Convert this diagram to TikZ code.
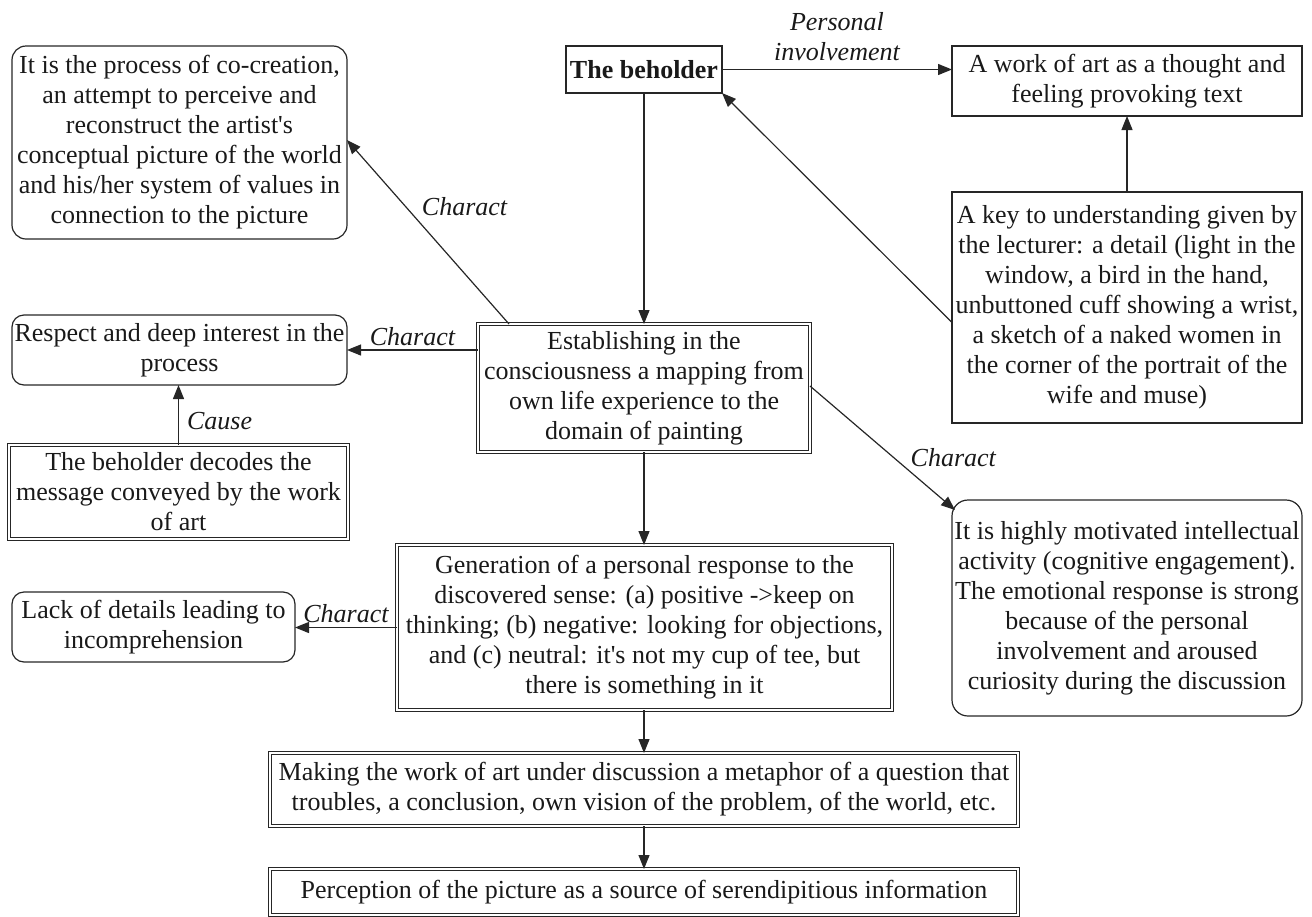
\documentclass[tikz,border=0pt]{standalone}
\usepackage{fontspec}
\setmainfont{Liberation Serif}
\usetikzlibrary{arrows.meta}
\begin{document}
\begin{tikzpicture}[x=1pt,y=-1pt,
  base/.style={draw=black!85, line width=1.2pt, align=center, inner sep=0pt, outer sep=0pt,
    font=\fontsize{26}{30}\selectfont, text=black!90},
  plainbox/.style={base},
  roundbox/.style={base, rounded corners=14pt},
  dblbox/.style={base, double, double distance=2.4pt, line width=0.9pt},
  conn/.style={draw=black!85, line width=1.2pt, -{Triangle[length=14pt,width=11pt]}},
  lbl/.style={font=\fontsize{26}{30}\selectfont\itshape, text=black!90, inner sep=2pt}
]
\useasboundingbox (0,0) rectangle (1312,916);

\node[roundbox, minimum width=335pt, minimum height=193pt] (cocreate) at (179.5,142.5)
  {It is the process of co-creation,\\ an attempt to perceive and\\ reconstruct the artist\textquotesingle s\\ conceptual picture of the world\\ and his/her system of values in\\ connection to the picture};

\node[plainbox, minimum width=156pt, minimum height=47pt, font=\fontsize{26}{30}\selectfont\bfseries] (beholder) at (644,69.5) {The beholder};

\node[plainbox, minimum width=350pt, minimum height=70pt] (work) at (1127,81)
  {A work of art as a thought and\\ feeling provoking text};

\node[plainbox, minimum width=350pt, minimum height=231pt] (key) at (1127,307.5)
  {A key to understanding given by\\ the lecturer: a detail (light in the\\ window, a bird in the hand,\\ unbuttoned cuff showing a wrist,\\ a sketch of a naked women in\\ the corner of the portrait of the\\ wife and muse)};

\node[roundbox, rounded corners=12pt, minimum width=335pt, minimum height=70pt] (respect) at (179.5,350)
  {Respect and deep interest in the\\ process};

\node[dblbox, minimum width=332pt, minimum height=128pt] (establish) at (644,388)
  {Establishing in the\\ consciousness a mapping from\\ own life experience to the\\ domain of painting};

\node[dblbox, minimum width=339pt, minimum height=94pt] (decodes) at (178.5,492)
  {The beholder decodes the\\ message conveyed by the work\\ of art};

\node[roundbox, rounded corners=16pt, minimum width=350pt, minimum height=216pt] (motivated) at (1127,608)
  {It is highly motivated intellectual\\ activity (cognitive engagement).\\ The emotional response is strong\\ because of the personal\\ involvement and aroused\\ curiosity during the discussion};

\node[dblbox, minimum width=495pt, minimum height=165pt] (generation) at (644.5,627.5)
  {Generation of a personal response to the\\ discovered sense: (a) positive ->keep on\\ thinking; (b) negative: looking for objections,\\ and (c) neutral: it\textquotesingle s not my cup of tee, but\\ there is something in it};

\node[roundbox, rounded corners=12pt, minimum width=283pt, minimum height=70pt] (lack) at (153.5,627)
  {Lack of details leading to\\ incomprehension};

\node[dblbox, minimum width=748pt, minimum height=73pt] (making) at (644,789.5)
  {Making the work of art under discussion a metaphor of a question that\\ troubles, a conclusion, own vision of the problem, of the world, etc.};

\node[dblbox, minimum width=748pt, minimum height=46pt] (perception) at (644,892)
  {Perception of the picture as a source of serendipitious information};

% connectors
\draw[conn] (beholder.east) -- (beholder.east -| work.west)
  node[lbl, midway, above, align=center, yshift=6pt] {Personal\\ involvement};
\draw[conn] (beholder.south) -- (establish.north);
\draw[conn] (key.north) -- (work.south);
\draw[conn] ([yshift=-15pt]key.west) -- (beholder.south east);
\draw[conn] ([xshift=-135pt]establish.north) -- ([yshift=2.5pt]cocreate.east)
  node[lbl, pos=0.64, anchor=west, xshift=14pt] {Charact};
\draw[conn] (establish.west |- respect.east) -- (respect.east)
  node[lbl, midway, above, yshift=2pt] {Charact};
\draw[conn] (decodes.north) -- (decodes.north |- respect.south)
  node[lbl, midway, right, xshift=6pt, yshift=-6pt] {Cause};
\draw[conn] ([yshift=2pt]establish.east) -- ([xshift=3pt,yshift=-10pt]motivated.north west)
  node[lbl, pos=0.58, anchor=west, xshift=14pt] {Charact};
\draw[conn] (generation.west) -- (generation.west -| lack.east)
  node[lbl, midway, above, yshift=2pt] {Charact};
\draw[conn] (establish.south) -- (establish.south |- generation.north);
\draw[conn] (making.north |- generation.south) -- (making.north);
\draw[conn] (making.south) -- (perception.north);
\end{tikzpicture}
\end{document}
